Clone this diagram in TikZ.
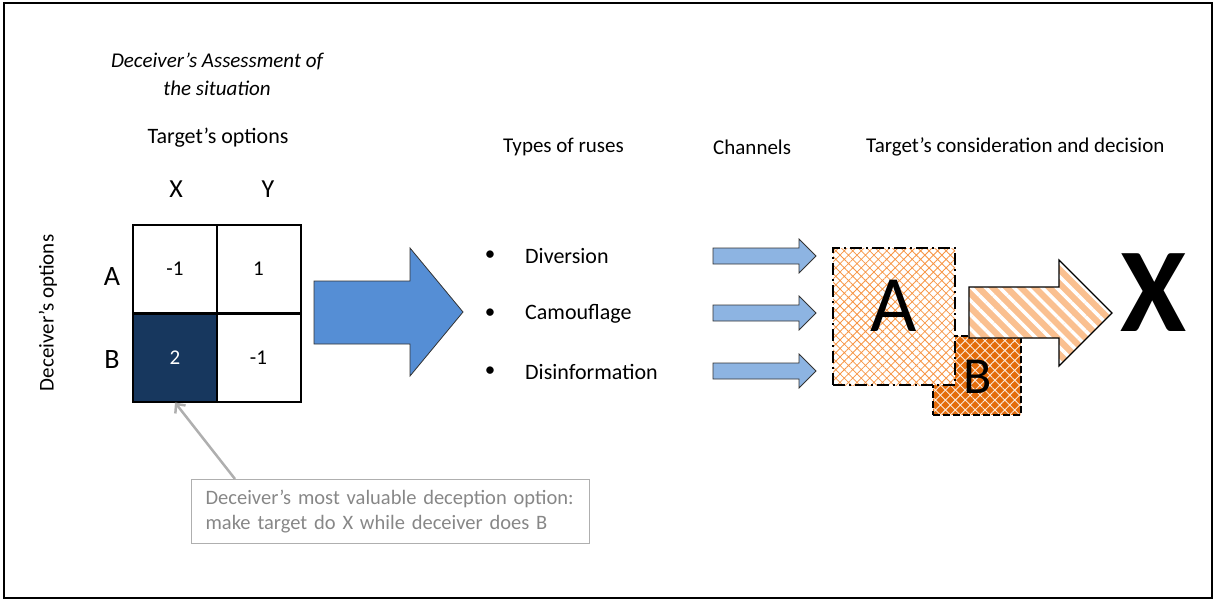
\documentclass[tikz,border=0pt]{standalone}
\usepackage{fontspec}
\setmainfont{Carlito}
\usetikzlibrary{patterns.meta,arrows.meta,calc}
\definecolor{navy}{RGB}{23,55,94}
\definecolor{bigblue}{RGB}{85,142,213}
\definecolor{ltblue}{RGB}{141,180,226}
\definecolor{dkorange}{RGB}{228,108,10}
\definecolor{ltorange}{RGB}{250,192,144}
\definecolor{hatchorange}{RGB}{247,150,70}
\definecolor{callgray}{RGB}{175,175,175}
\definecolor{calltext}{RGB}{135,135,135}
\begin{document}
\begin{tikzpicture}[x=1pt,y=1pt,
  txt/.style={inner sep=0pt, font=\fontsize{21}{25}\selectfont},
  itemtxt/.style={inner sep=0pt, anchor=west, font=\fontsize{22}{26}\selectfont},
  cell/.style={draw=black, line width=2pt, minimum width=84pt, minimum height=88pt, inner sep=0pt, font=\fontsize{21}{25}\selectfont},
  blockarrow/.style={draw=black!80, line width=0.8pt, line join=miter},
]
\useasboundingbox (0,0) rectangle (1217,-603);
\draw[line width=2pt] (4,-3) rectangle (1212,-598);

% title
\node[txt, font=\fontsize{21}{25}\selectfont\itshape] (title1) at (217,-61) {Deceiver’s Assessment of};
\node[txt, font=\fontsize{21}{25}\selectfont\itshape] (title2) at (217,-88) {the situation};
\node[txt, font=\fontsize{22}{26}\selectfont] (topt) at (218,-138) {Target’s options};
\node[txt, font=\fontsize{26}{30}\selectfont] (lx) at (176,-189) {X};
\node[txt, font=\fontsize{26}{30}\selectfont] (ly) at (268,-189) {Y};
\node[txt, font=\fontsize{28}{32}\selectfont] (la) at (112,-277) {A};
\node[txt, font=\fontsize{28}{32}\selectfont] (lb) at (112,-360) {B};
\node[txt, rotate=90] (dopt) at (48,-313) {Deceiver’s options};

% matrix
\node[cell] (cAX) at (175,-269) {-1};
\node[cell] (cAY) at (258.5,-269) {1};
\node[cell, fill=navy, text=white] (cBX) at (175,-357.5) {2};
\node[cell] (cBY) at (258.5,-357.5) {-1};

% callout
\node[draw=callgray, line width=1.2pt, anchor=north west, inner xsep=14pt, inner ysep=0pt,
      text width=370pt, minimum height=64pt, align=left, text=calltext,
      font=\fontsize{20.5}{25}\selectfont] (callout) at (191,-479)
  {Deceiver’s most valuable deception option:\\make target do X while deceiver does B};
\draw[callgray, line width=2.5pt, -{Straight Barb[length=7pt,width=13pt]}]
  ($(callout.north west)+(44,0)$) -- (cBX.south);

% big arrow
\draw[blockarrow, fill=bigblue] (314,-281) -- (410,-281) -- (410,-248) -- (463,-312)
  -- (410,-376) -- (410,-344) -- (314,-344) -- cycle;

% headers
\node[txt, anchor=west] (hruses) at (503,-147) {Types of ruses};
\node[txt, anchor=west] (hchan) at (713,-147) {Channels};
\node[txt, anchor=west] (hdec) at (866,-147) {Target’s consideration and decision};

% items
\node[txt] (b1) at (490,-256) {•};
\node[txt] (b2) at (490,-314) {•};
\node[txt] (b3) at (490,-372) {•};
\node[itemtxt] (i1) at (525,-256) {Diversion};
\node[itemtxt] (i2) at (525,-314) {Camouflage};
\node[itemtxt] (i3) at (525,-372) {Disinformation};

% channel arrows
\foreach \yc in {256,313,371}{
  \draw[blockarrow, fill=ltblue] (713,-\yc+8) -- (799,-\yc+8) -- (799,-\yc+17) -- (816,-\yc)
    -- (799,-\yc-17) -- (799,-\yc-8) -- (713,-\yc-8) -- cycle;
}

% box B
\node[draw=black, line width=1.8pt, dash pattern=on 7pt off 3pt,
      minimum width=88pt, minimum height=79pt, inner sep=0pt,
      preaction={fill=dkorange},
      pattern={Hatch[angle=45,distance=7pt,line width=0.9pt]}, pattern color=white!85!dkorange] (boxB) at (977,-375.5) {};
% box A
\node[draw=black, line width=1.8pt, dash pattern=on 12pt off 4pt on 2pt off 4pt,
      minimum width=122pt, minimum height=137pt, inner sep=0pt,
      preaction={fill=white},
      pattern={Hatch[angle=45,distance=6pt,line width=0.8pt]}, pattern color=hatchorange] (boxA) at (894,-316.5) {};
\node[txt, font=\fontsize{80}{90}\selectfont] (letA) at (894,-306) {A};
\node[txt, font=\fontsize{52}{60}\selectfont] (letB) at (978,-377) {B};

% orange arrow
\path[preaction={fill=ltorange}, pattern={Lines[angle=-45,distance=10pt,line width=3.5pt]}, pattern color=white]
  (969,-287) -- (1059,-287) -- (1059,-260) -- (1112,-313) -- (1059,-366) -- (1059,-338) -- (969,-338) -- cycle;
\draw[blockarrow, line width=1.2pt, draw=black]
  (969,-287) -- (1059,-287) -- (1059,-260) -- (1112,-313) -- (1059,-366) -- (1059,-338) -- (969,-338) -- cycle;

\node[txt, font=\fontsize{120}{130}\selectfont\bfseries] (bigX) at (1154,-293) {X};
\end{tikzpicture}
\end{document}
